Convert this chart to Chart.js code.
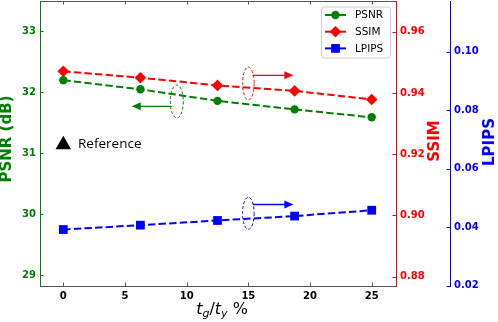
<!DOCTYPE html>
<html>
<head>
<meta charset="utf-8">
<script src="https://cdn.jsdelivr.net/npm/chart.js@4.4.0/dist/chart.umd.min.js"></script>
<style>
  body { margin: 0; background: #fff; }
  canvas { display: block; }
</style>
</head>
<body>
<canvas id="chart" width="498" height="322"></canvas>
<script>
// data
const ratio = [0, 6.25, 12.5, 18.75, 25];
const psnr = [32.2, 32.05, 31.86, 31.72, 31.59];
const ssim = [0.9471, 0.945, 0.9425, 0.9407, 0.9379];
const lpips = [0.0392, 0.0407, 0.0423, 0.0438, 0.0458];
const referencePoint = { x: 0, y: 31.14 };
const seriesNames = ["PSNR", "SSIM", "LPIPS"];

const GREEN = "#008000";
const RED = "#ff0000";
const BLUE = "#0000ff";
const SPINE = "#555555";
const tickFont = { family: "DejaVu Sans", size: 10, weight: "bold" };

// dashed ellipse + arrow marking which axis a curve belongs to
const notes = [
  { axis: "y", cx: 9.2, cy: 31.85, rx: 6.5, ry: 16.5, from: 8.8, to: 5.55, ay: 31.77, color: GREEN },
  { axis: "y1", cx: 15.0, cy: 0.9431, rx: 5.8, ry: 16.5, from: 15.36, to: 18.65, ay: 0.9458, color: RED },
  { axis: "y2", cx: 15.0, cy: 0.04475, rx: 5.8, ry: 16, from: 15.36, to: 18.65, ay: 0.04776, color: BLUE },
];

const pts = (ys) => ratio.map((x, i) => ({ x: x, y: ys[i] }));

function marker(ctx, style, x, y, r) {
  ctx.beginPath();
  if (style === "circle") {
    ctx.arc(x, y, r, 0, Math.PI * 2);
  } else if (style === "rectRot") {
    ctx.moveTo(x - r, y); ctx.lineTo(x, y - r); ctx.lineTo(x + r, y); ctx.lineTo(x, y + r);
    ctx.closePath();
  } else {
    const s = Math.SQRT1_2 * r;
    ctx.rect(x - s, y - s, 2 * s, 2 * s);
  }
  ctx.fill();
}

// fixed axis sizes, no extra padding for overflowing labels
const fixSize = (w, h) => (s) => {
  if (w) s.width = w;
  if (h) s.height = h;
  s.paddingTop = 0; s.paddingBottom = 0; s.paddingLeft = 0; s.paddingRight = 0;
};

const extras = {
  id: "extras",
  afterDraw(chart) {
    const ctx = chart.ctx;
    const area = chart.chartArea;
    const sx = chart.scales.x;
    ctx.save();

    // top spine
    ctx.strokeStyle = SPINE;
    ctx.lineWidth = 1;
    ctx.beginPath();
    ctx.moveTo(area.left, area.top + 0.5);
    ctx.lineTo(area.right, area.top + 0.5);
    ctx.stroke();

    // inward ticks
    sx.ticks.forEach(t => {
      const px = Math.round(sx.getPixelForValue(t.value)) + 0.5;
      ctx.beginPath();
      ctx.moveTo(px, area.bottom); ctx.lineTo(px, area.bottom - 3.5);
      ctx.moveTo(px, area.top); ctx.lineTo(px, area.top + 3.5);
      ctx.stroke();
    });
    [["y", GREEN, 1], ["y1", RED, -1], ["y2", BLUE, -1]].forEach(([id, color, dir]) => {
      const sc = chart.scales[id];
      const x0 = id === "y" ? sc.right : sc.left;
      ctx.strokeStyle = color;
      sc.ticks.forEach(t => {
        const py = Math.round(sc.getPixelForValue(t.value)) + 0.5;
        ctx.beginPath();
        ctx.moveTo(x0, py); ctx.lineTo(x0 + dir * 3.5, py);
        ctx.stroke();
      });
    });

    // axis titles
    ctx.font = "bold 15px 'DejaVu Sans'";
    ctx.textAlign = "center";
    ctx.textBaseline = "middle";
    [["PSNR (dB)", GREEN, 7, 139], ["SSIM", RED, 435, 141], ["LPIPS", BLUE, 490, 142]].forEach(([txt, color, x, y]) => {
      ctx.save();
      ctx.translate(x, y);
      ctx.rotate(-Math.PI / 2);
      ctx.fillStyle = color;
      ctx.fillText(txt, 0, 0);
      ctx.restore();
    });

    // x title: t_g/t_y %
    const parts = [
      ["t", "italic 16px 'DejaVu Sans'", 0],
      ["g", "italic 11px 'DejaVu Sans'", 3],
      ["/", "16px 'DejaVu Sans'", 0],
      ["t", "italic 16px 'DejaVu Sans'", 0],
      ["y", "italic 11px 'DejaVu Sans'", 3],
      [" %", "16px 'DejaVu Sans'", 0],
    ];
    let total = 0;
    parts.forEach(p => { ctx.font = p[1]; total += ctx.measureText(p[0]).width; });
    let cx = 222 - total / 2;
    ctx.fillStyle = "#000";
    ctx.textAlign = "left";
    ctx.textBaseline = "alphabetic";
    parts.forEach(p => {
      ctx.font = p[1];
      ctx.fillText(p[0], cx, 314 + p[2]);
      cx += ctx.measureText(p[0]).width;
    });

    // reference label
    const sy = chart.scales.y;
    ctx.font = "13.5px 'Open Sans'";
    ctx.textBaseline = "middle";
    ctx.fillText("Reference", 78, sy.getPixelForValue(referencePoint.y) - 1);

    // annotations
    notes.forEach(n => {
      const sc = chart.scales[n.axis];
      const ex = sx.getPixelForValue(n.cx);
      const ey = sc.getPixelForValue(n.cy);
      ctx.strokeStyle = n.color;
      ctx.fillStyle = n.color;
      ctx.lineWidth = 1;
      ctx.setLineDash([3, 2]);
      ctx.beginPath();
      ctx.ellipse(ex, ey, n.rx, n.ry, 0, 0, Math.PI * 2);
      ctx.stroke();
      ctx.setLineDash([]);
      const x1 = sx.getPixelForValue(n.from);
      const x2 = sx.getPixelForValue(n.to);
      const ay = sc.getPixelForValue(n.ay);
      const d = x2 > x1 ? 1 : -1;
      ctx.lineWidth = 1.3;
      ctx.beginPath();
      ctx.moveTo(x1, ay); ctx.lineTo(x2 - d * 8, ay);
      ctx.stroke();
      ctx.beginPath();
      ctx.moveTo(x2, ay); ctx.lineTo(x2 - d * 9, ay - 4); ctx.lineTo(x2 - d * 9, ay + 4);
      ctx.closePath();
      ctx.fill();
    });

    // legend
    const lx = 321, ly = 6.5, lw = 69, lh = 51;
    ctx.fillStyle = "rgba(255,255,255,0.85)";
    ctx.strokeStyle = "#cccccc";
    ctx.lineWidth = 1;
    ctx.beginPath();
    ctx.roundRect(lx + 0.5, ly + 0.5, lw, lh, 3);
    ctx.fill();
    ctx.stroke();
    chart.data.datasets.slice(0, 3).forEach((ds, i) => {
      const y = 15 + i * 16.7;
      ctx.strokeStyle = ds.borderColor;
      ctx.fillStyle = ds.borderColor;
      ctx.lineWidth = 2;
      ctx.beginPath();
      ctx.moveTo(325, y); ctx.lineTo(346, y);
      ctx.stroke();
      marker(ctx, ds.pointStyle, 335.5, y, ds.pointRadius);
      ctx.fillStyle = "#000";
      ctx.font = "10.5px 'DejaVu Sans'";
      ctx.textBaseline = "middle";
      ctx.fillText(ds.label, 355, y + 0.5);
    });

    ctx.restore();
  }
};

const lineSet = (label, ys, color, style, r, axis) => ({
  label: label,
  data: pts(ys),
  yAxisID: axis,
  borderColor: color,
  backgroundColor: color,
  borderWidth: 2,
  borderDash: [7.4, 3.2],
  pointStyle: style,
  pointRadius: r,
  pointBorderWidth: 0,
  pointBackgroundColor: color,
  showLine: true,
  tension: 0,
});

new Chart(document.getElementById("chart"), {
  type: "scatter",
  data: {
    datasets: [
      lineSet(seriesNames[0], psnr, GREEN, "circle", 4.2, "y"),
      lineSet(seriesNames[1], ssim, RED, "rectRot", 5.8, "y1"),
      lineSet(seriesNames[2], lpips, BLUE, "rect", 6.2, "y2"),
      {
        label: "Reference",
        data: [referencePoint],
        yAxisID: "y",
        pointStyle: "triangle",
        pointRadius: 9,
        pointBorderWidth: 0,
        pointBackgroundColor: "#000",
        backgroundColor: "#000",
        showLine: false,
      },
    ],
  },
  options: {
    responsive: false,
    animation: false,
    devicePixelRatio: 1,
    layout: { autoPadding: false, padding: { top: 1, left: 0, right: 0, bottom: 0 } },
    plugins: {
      legend: { display: false },
      tooltip: { enabled: false },
    },
    scales: {
      x: {
        type: "linear",
        min: -1.89,
        max: 26.97,
        afterFit: fixSize(0, 36),
        grid: { display: false, drawTicks: false },
        border: { display: true, color: SPINE, width: 1 },
        ticks: { stepSize: 5, includeBounds: false, color: "#000", font: tickFont, padding: 4 },
      },
      y: {
        position: "left",
        min: 28.82,
        max: 33.5,
        afterFit: fixSize(40, 0),
        grid: { display: false, drawTicks: false },
        border: { display: true, color: GREEN, width: 1 },
        ticks: { stepSize: 1, includeBounds: false, color: GREEN, font: tickFont, padding: 4 },
      },
      y1: {
        position: "right",
        weight: 0,
        min: 0.87695,
        max: 0.97007,
        afterFit: fixSize(54, 0),
        grid: { display: false, drawTicks: false },
        border: { display: true, color: RED, width: 1 },
        ticks: {
          stepSize: 0.02, includeBounds: false, color: RED, font: tickFont, padding: 4,
          callback: (v) => v.toFixed(2),
        },
      },
      y2: {
        position: "right",
        weight: 1,
        min: 0.0199,
        max: 0.11733,
        afterFit: fixSize(48, 0),
        grid: { display: false, drawTicks: false },
        border: { display: true, color: BLUE, width: 1 },
        ticks: {
          stepSize: 0.02, includeBounds: false, color: BLUE, font: tickFont, padding: 4,
          callback: (v) => v.toFixed(2),
        },
      },
    },
  },
  plugins: [extras],
});
</script>
</body>
</html>
